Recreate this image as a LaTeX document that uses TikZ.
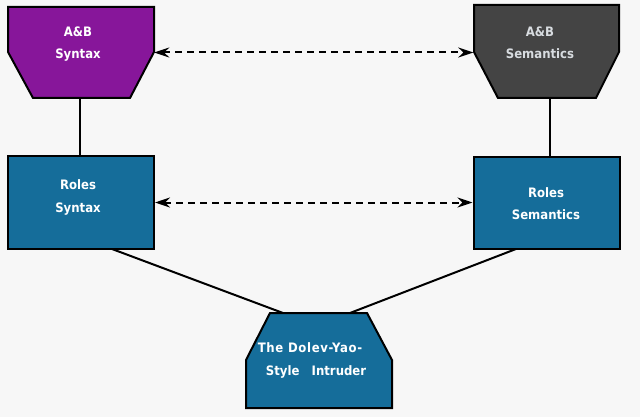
\documentclass[tikz,border=0pt]{standalone}
\usepackage{fontspec}
\setmainfont{DejaVu Sans Condensed}
\usetikzlibrary{arrows.meta,calc}
\definecolor{bg}{HTML}{F7F7F7}
\definecolor{abpurple}{HTML}{87169A}
\definecolor{abgray}{HTML}{444444}
\definecolor{roleblue}{HTML}{156D9A}
\definecolor{lighttext}{HTML}{D8DCE0}
\tikzset{
  outline/.style={draw=black, line width=2pt, line join=miter},
  lbl/.style={text=white, font=\fontsize{13}{22.5}\selectfont\bfseries, align=center, inner sep=0pt},
  box/.style={outline, fill=roleblue, minimum width=146pt, minimum height=92pt, inner sep=0pt},
  frame/.style={minimum width=146pt, minimum height=91pt, inner sep=0pt},
  link/.style={draw=black, line width=2pt},
  twoway/.style={draw=black, line width=2pt, dash pattern=on 7pt off 5pt,
     {Stealth[length=15pt,width=10pt,inset=5pt]}-{Stealth[length=15pt,width=10pt,inset=5pt]}}
}
\begin{document}
\begin{tikzpicture}[x=1pt,y=-1pt]
\fill[bg] (0,0) rectangle (640,417);
\useasboundingbox (0,0) rectangle (640,417);

% A&B Syntax
\node[frame] (abs) at (81,52.5) {};
\draw[outline, fill=abpurple] (8,7) -- (154,7) -- (154,52) -- (130,98) -- (33,98) -- (8,52) -- cycle;
\node[lbl] (abstext) at (78,44) {A\&B\\Syntax};

% A&B Semantics
\node[frame] (abm) at (546.5,51.5) {};
\draw[outline, fill=abgray] (474,5) -- (619,5) -- (619,52) -- (596,98) -- (498,98) -- (474,52) -- cycle;
\node[lbl, text=lighttext] (abmtext) at (540,43) {A\&B\\Semantics};

% Roles boxes
\node[box] (rs) at (81,202.5) {};
\node[lbl] (rstext) at (78,197.5) {Roles\\Syntax};
\node[box] (rm) at (546.5,203) {};
\node[lbl] (rmtext) at (546,203.5) {Roles\\Semantics};

% Intruder
\node[minimum width=146pt, minimum height=95pt, inner sep=0pt] (di) at (319,360.5) {};
\draw[outline, fill=roleblue] (270,313) -- (367,313) -- (392,360) -- (392,408) -- (246,408) -- (246,360) -- cycle;
\node[lbl, align=left] (ditext) at (312,360.5) {{\addfontfeature{LetterSpace=5}The Dolev-Yao-}\\\ \ Style\ \ \ Intruder};

% connectors
\coordinate (absB) at (80,98);
\coordinate (abmB) at (550,98);
\draw[link] (absB) -- (absB |- rs.north);
\draw[link] (abmB) -- (abmB |- rm.north);
\coordinate (rsL) at (112,249);
\coordinate (rmL) at (516,249);
\coordinate (diL) at (283,313);
\coordinate (diR) at (350,313);
\draw[link] (rsL) -- (diL);
\draw[link] (rmL) -- (diR);
\draw[twoway] (abs.east) -- (abm.west |- abs.east);
\draw[twoway] (rs.east) -- (rm.west |- rs.east);
\end{tikzpicture}
\end{document}
